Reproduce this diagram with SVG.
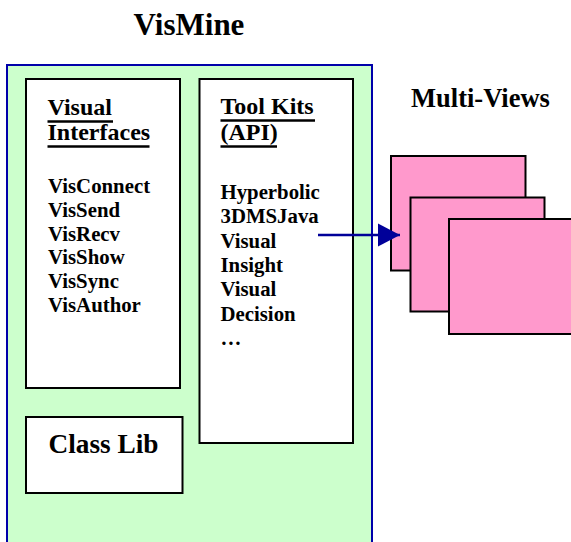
<svg xmlns="http://www.w3.org/2000/svg" width="571" height="542" viewBox="0 0 571 542">
  <defs>
    <style>
      text { font-family: 'Liberation Serif', 'Times New Roman', serif; font-weight: 700; fill: #000; }
      .title { font-size: 31px; }
      .big { font-size: 26.5px; }
      .lib { font-size: 27.3px; }
      .head { font-size: 24px; }
      .item { font-size: 20.8px; }
      .box { fill: #fff; stroke: #000; stroke-width: 2; }
      .view { fill: #ff99cc; stroke: #000; stroke-width: 2; }
      .ul { stroke: #000; stroke-width: 2.4; }
      .conn { stroke: #000099; stroke-width: 2.3; fill: none; }
    </style>
    <marker id="arrow" markerUnits="userSpaceOnUse" markerWidth="24" markerHeight="24" refX="22" refY="12" orient="auto">
      <path d="M0,0.5 L22,12 L0,23.5 Z" fill="#000099"/>
    </marker>
  </defs>

  <text class="title" x="189" y="35" text-anchor="middle">VisMine</text>

  <!-- VisMine container -->
  <g id="vismine">
    <rect x="7" y="65" width="365" height="490" fill="#ccffcc" stroke="#0000aa" stroke-width="2"/>
  </g>

  <g id="visual-interfaces">
    <rect class="box" x="26" y="79" width="154" height="309"/>
    <text class="head" x="47.5" y="115">Visual</text>
    <line class="ul" x1="47.5" y1="121.5" x2="113" y2="121.5"/>
    <text class="head" x="47.5" y="140">Interfaces</text>
    <line class="ul" x1="47.5" y1="146.5" x2="149.5" y2="146.5"/>
    <text class="item" x="48" y="193">VisConnect</text>
    <text class="item" x="48" y="216.8">VisSend</text>
    <text class="item" x="48" y="240.6">VisRecv</text>
    <text class="item" x="48" y="264.4">VisShow</text>
    <text class="item" x="48" y="288.2">VisSync</text>
    <text class="item" x="48" y="312">VisAuthor</text>
  </g>

  <g id="tool-kits">
    <rect class="box" x="199.5" y="79" width="153.5" height="364"/>
    <text class="head" x="220.5" y="114">Tool Kits</text>
    <line class="ul" x1="220.5" y1="120.5" x2="315" y2="120.5"/>
    <text class="head" x="220.5" y="140">(API)</text>
    <line class="ul" x1="220.5" y1="146.5" x2="277" y2="146.5"/>
    <text class="item" x="220.5" y="199">Hyperbolic</text>
    <text class="item" x="220.5" y="223.3">3DMSJava</text>
    <text class="item" x="220.5" y="247.6">Visual</text>
    <text class="item" x="220.5" y="271.9">Insight</text>
    <text class="item" x="220.5" y="296.2">Visual</text>
    <text class="item" x="220.5" y="320.5">Decision</text>
    <text class="item" x="220.5" y="344.8">…</text>
  </g>

  <g id="class-lib">
    <rect class="box" x="26" y="417" width="156.5" height="76"/>
    <text class="lib" x="48.5" y="453">Class Lib</text>
  </g>

  <g id="multi-views">
    <text class="big" x="480.5" y="107" text-anchor="middle">Multi-Views</text>
    <rect class="view" x="391" y="156" width="134.5" height="114.5"/>
    <rect class="view" x="410.5" y="197.5" width="134" height="114"/>
    <rect class="view" x="449" y="219" width="130" height="115" stroke-width="2.4"/>
  </g>

  <g id="connectors">
    <line class="conn" x1="318" y1="235" x2="400" y2="235" marker-end="url(#arrow)"/>
  </g>
</svg>
